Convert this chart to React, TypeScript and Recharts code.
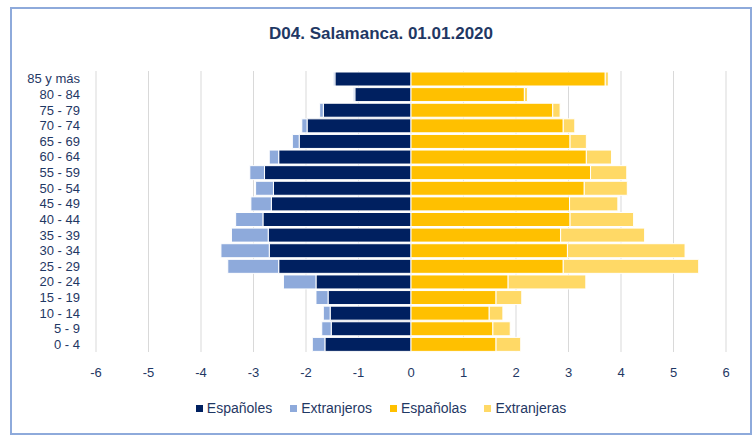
import { BarChart, Bar, XAxis, YAxis, CartesianGrid, Legend } from "recharts";

const categories = [
  "0 - 4", "5 - 9", "10 - 14", "15 - 19", "20 - 24", "25 - 29", "30 - 34", "35 - 39", "40 - 44",
  "45 - 49", "50 - 54", "55 - 59", "60 - 64", "65 - 69", "70 - 74", "75 - 79", "80 - 84", "85 y más",
];

const espanoles = [-1.64, -1.52, -1.54, -1.58, -1.81, -2.52, -2.7, -2.72, -2.82, -2.66, -2.62, -2.79, -2.52, -2.13, -1.98, -1.67, -1.07, -1.45];
const extranjeros = [-0.24, -0.18, -0.13, -0.23, -0.62, -0.97, -0.92, -0.7, -0.52, -0.39, -0.34, -0.28, -0.18, -0.13, -0.1, -0.07, -0.03, -0.03];
const espanolas = [1.62, 1.56, 1.49, 1.62, 1.85, 2.9, 2.98, 2.85, 3.03, 3.02, 3.3, 3.42, 3.34, 3.03, 2.9, 2.7, 2.16, 3.7];
const extranjeras = [0.47, 0.33, 0.26, 0.49, 1.48, 2.58, 2.24, 1.6, 1.21, 0.92, 0.82, 0.69, 0.48, 0.31, 0.22, 0.14, 0.06, 0.06];

const xTicks = [-6, -5, -4, -3, -2, -1, 0, 1, 2, 3, 4, 5, 6];

const series = [
  { key: "espanoles", name: "Españoles", color: "#002060" },
  { key: "extranjeros", name: "Extranjeros", color: "#8eaadb" },
  { key: "espanolas", name: "Españolas", color: "#ffc000" },
  { key: "extranjeras", name: "Extranjeras", color: "#ffd966" },
];

const data = categories.map((age, i) => ({
  age,
  espanoles: espanoles[i],
  extranjeros: extranjeros[i],
  espanolas: espanolas[i],
  extranjeras: extranjeras[i],
}));

const NAVY = "#1f3864";
const FONT = "'Liberation Sans', Arial, sans-serif";

function LegendContent() {
  return (
    <div style={{ display: "flex", justifyContent: "center", paddingTop: 18, fontSize: 14, fontFamily: FONT, color: NAVY }}>
      {series.map((s) => (
        <span key={s.key} style={{ display: "flex", alignItems: "center", margin: "0 9px" }}>
          <span style={{ width: 7, height: 7, background: s.color, marginRight: 4 }} />
          {s.name}
        </span>
      ))}
    </div>
  );
}

export default function App() {
  return (
    <div
      style={{
        position: "absolute",
        left: 10,
        top: 7,
        width: 742,
        height: 428,
        boxSizing: "border-box",
        border: "2px solid #8eaadb",
        background: "#fff",
        fontFamily: FONT,
      }}
    >
      <div
        style={{
          position: "absolute",
          left: 0,
          right: 0,
          top: 15,
          textAlign: "center",
          fontSize: 17,
          fontWeight: "bold",
          color: NAVY,
        }}
      >
        D04. Salamanca. 01.01.2020
      </div>
      <BarChart
        width={738}
        height={424}
        data={data}
        layout="vertical"
        stackOffset="sign"
        barCategoryGap={1}
        margin={{ top: 62, right: 24, bottom: 0, left: 0 }}
      >
        <CartesianGrid horizontal={false} stroke="#d9d9d9" />
        <XAxis
          type="number"
          domain={[-6, 6]}
          ticks={xTicks}
          axisLine={false}
          tickLine={false}
          tickMargin={10}
          height={30}
          tick={{ fontSize: 13, fill: NAVY, fontFamily: FONT }}
        />
        <YAxis
          type="category"
          dataKey="age"
          reversed
          width={84}
          axisLine={false}
          tickLine={false}
          tickMargin={10}
          interval={0}
          tick={{ fontSize: 13, fill: NAVY, fontFamily: FONT }}
        />
        <Legend
          verticalAlign="bottom"
          height={51}
          wrapperStyle={{ left: 0, width: 738 }}
          content={<LegendContent />}
        />
        {series.map((s) => (
          <Bar
            key={s.key}
            dataKey={s.key}
            name={s.name}
            stackId="a"
            fill={s.color}
            stroke="#fff"
            strokeWidth={1}
            isAnimationActive={false}
          />
        ))}
      </BarChart>
    </div>
  );
}
